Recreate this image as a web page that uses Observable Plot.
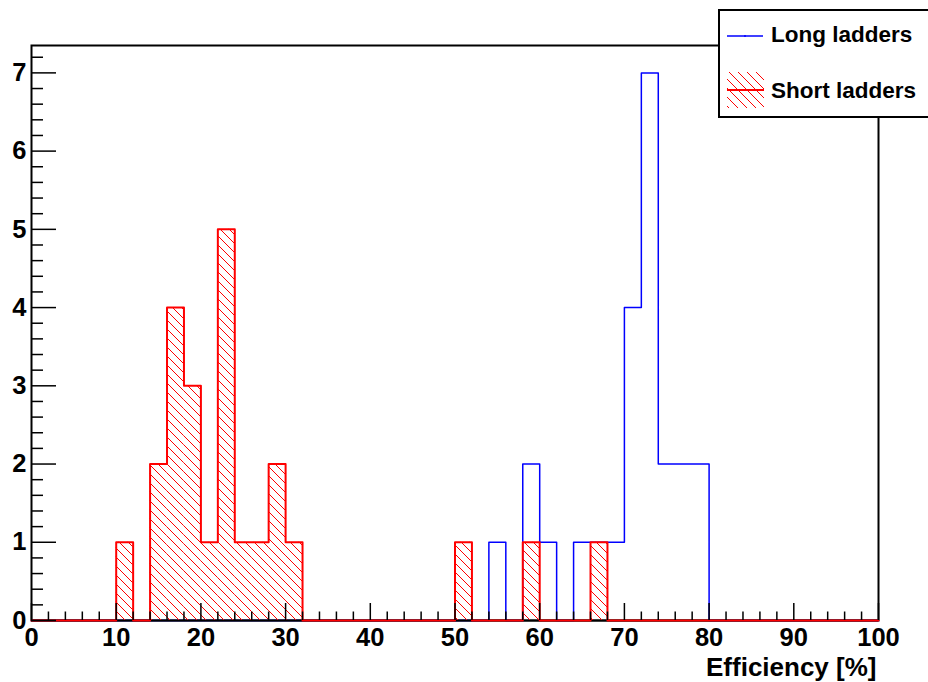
<!DOCTYPE html>
<html>
<head>
<meta charset="utf-8">
<script src="https://cdn.jsdelivr.net/npm/d3@7"></script>
<script src="https://cdn.jsdelivr.net/npm/@observablehq/plot@0.6"></script>
<style>
  html, body { margin: 0; padding: 0; background: #fff; }
  #chart { position: relative; width: 928px; height: 682px; overflow: hidden; }
</style>
</head>
<body>
<div id="chart"></div>
<script>
// ---- data ----
const binLow = 0;
const binWidth = 2;
// counts per 2%-wide bin, 0..100 (50 bins)
const longCounts = [
  0,0,0,0,0, 0,0,0,0,0,
  0,0,0,0,0, 0,0,0,0,0,
  0,0,0,0,0, 0,0,1,0,2,
  1,0,1,1,1, 4,7,2,2,2,
  0,0,0,0,0, 0,0,0,0,0
];
const shortCounts = [
  0,0,0,0,0, 1,0,2,4,3,
  1,5,1,1,2, 1,0,0,0,0,
  0,0,0,0,0, 1,0,0,0,1,
  0,0,0,1,0, 0,0,0,0,0,
  0,0,0,0,0, 0,0,0,0,0
];
const seriesNames = ["Long ladders", "Short ladders"];
const xTickLabels = [0, 10, 20, 30, 40, 50, 60, 70, 80, 90, 100];
const yTickLabels = [0, 1, 2, 3, 4, 5, 6, 7];
const xTitle = "Efficiency [%]";

// ---- layout ----
const W = 928, H = 682;
const mL = 31, mR = 50, mT = 45, mB = 62;
const xDomain = [0, 100], yDomain = [0, 7.35];
const pxPerX = (W - mL - mR) / (xDomain[1] - xDomain[0]);
const pxPerY = (H - mT - mB) / (yDomain[1] - yDomain[0]);

const bins = (counts) => counts.map((c, i) => ({x1: binLow + i * binWidth, x2: binLow + (i + 1) * binWidth, y: c}));
const steps = (counts) => {
  const pts = counts.map((c, i) => ({x: binLow + i * binWidth, y: c}));
  pts.push({x: binLow + counts.length * binWidth, y: counts[counts.length - 1]});
  return pts;
};

const xMinor = d3.range(0, 100.001, 2).filter(v => v % 10 !== 0);
const yMinor = d3.range(0, 7.3, 0.2).map(v => +v.toFixed(1)).filter(v => Math.abs(v - Math.round(v)) > 1e-6);

const font = "'Liberation Sans', Arial, Helvetica, sans-serif";
const labelSize = 25.5;

const plot = Plot.plot({
  width: W, height: H,
  marginLeft: mL, marginRight: mR, marginTop: mT, marginBottom: mB,
  x: {domain: xDomain, axis: null},
  y: {domain: yDomain, axis: null},
  style: {fontFamily: font, background: "white", overflow: "visible"},
  marks: [
    Plot.frame({stroke: "black", strokeWidth: 2}),
    Plot.line(steps(longCounts), {x: "x", y: "y", curve: "step-after", stroke: "blue", strokeWidth: 1.5}),
    Plot.ruleY([0], {stroke: "black", strokeWidth: 2}),
    Plot.rectY(bins(shortCounts).filter(d => d.y > 0), {x1: "x1", x2: "x2", y: "y", fill: "url(#hatch)", inset: 0}),
    Plot.line(steps(shortCounts), {x: "x", y: "y", curve: "step-after", stroke: "red", strokeWidth: 2}),
    // x ticks (pointing up, inside frame)
    Plot.ruleX(xTickLabels, {x: d => d, y1: 0, y2: 17 / pxPerY, stroke: "black", strokeWidth: 1.5}),
    Plot.ruleX(xMinor, {x: d => d, y1: 0, y2: 8.5 / pxPerY, stroke: "black", strokeWidth: 1.5}),
    // y ticks (pointing right)
    Plot.ruleY(yTickLabels, {y: d => d, x1: 0, x2: 25 / pxPerX, stroke: "black", strokeWidth: 1.5}),
    Plot.ruleY(yMinor, {y: d => d, x1: 0, x2: 12 / pxPerX, stroke: "black", strokeWidth: 1.5}),
    // tick labels
    Plot.text(xTickLabels, {x: d => d, frameAnchor: "bottom", lineAnchor: "top", dy: 7, text: d => String(d),
      fontSize: labelSize, fontWeight: "bold", fill: "black"}),
    Plot.text(yTickLabels, {y: d => d, frameAnchor: "left", textAnchor: "end", lineAnchor: "middle", dx: -5, text: d => String(d),
      fontSize: labelSize, fontWeight: "bold", fill: "black"}),
    Plot.text([xTitle], {frameAnchor: "bottom-right", textAnchor: "end", lineAnchor: "bottom", dy: 55, dx: -2, text: d => d,
      fontSize: 26, fontWeight: "bold", fill: "black"})
  ]
});

// hatch pattern definition
const svg = d3.select(plot);
const defs = svg.insert("defs", ":first-child");
const P = 9;
const pat = defs.append("pattern")
  .attr("id", "hatch").attr("patternUnits", "userSpaceOnUse")
  .attr("width", P).attr("height", P);
pat.append("path")
  .attr("d", `M0,0L${P},${P}M-2,${P-2}L2,${P+2}M${P-2},-2L${P+2},2`)
  .attr("stroke", "red").attr("stroke-width", 1).attr("fill", "none");

// legend (overlapping the top-right of the frame)
const lg = svg.append("g").attr("font-family", font).attr("font-weight", "bold")
  .attr("font-size", 22.5).attr("text-anchor", "start");
lg.append("rect").attr("x", 719).attr("y", 10).attr("width", 230).attr("height", 107)
  .attr("fill", "white").attr("stroke", "black").attr("stroke-width", 2);
// Long ladders entry
lg.append("line").attr("x1", 727).attr("x2", 763).attr("y1", 36).attr("y2", 36)
  .attr("stroke", "blue").attr("stroke-width", 1.5);
lg.append("circle").attr("cx", 745).attr("cy", 36).attr("r", 1).attr("fill", "blue");
lg.append("text").attr("x", 771).attr("y", 42).attr("fill", "black").text(seriesNames[0]);
// Short ladders entry
lg.append("rect").attr("x", 727).attr("y", 72).attr("width", 37).attr("height", 36)
  .attr("fill", "url(#hatch)");
lg.append("line").attr("x1", 727).attr("x2", 764).attr("y1", 90).attr("y2", 90)
  .attr("stroke", "red").attr("stroke-width", 2);
lg.append("text").attr("x", 771).attr("y", 98).attr("fill", "black").text(seriesNames[1]);

document.getElementById("chart").appendChild(plot);
</script>
</body>
</html>
